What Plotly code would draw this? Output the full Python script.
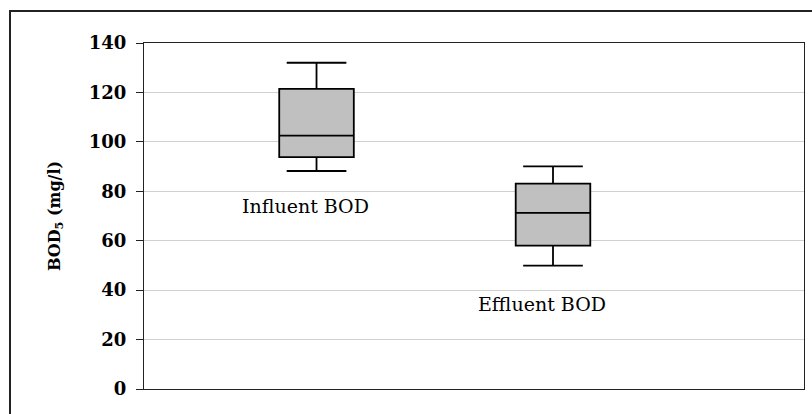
import plotly.graph_objects as go

categories = ["Influent BOD", "Effluent BOD"]
lower_whisker = [88.2, 49.9]
q1_values = [93.8, 58.0]
median_values = [102.5, 71.3]
q3_values = [121.4, 83.1]
upper_whisker = [132.0, 90.1]
y_ticks = [0, 20, 40, 60, 80, 100, 120, 140]

# horizontal layout (fractions of the x axis)
box_pos = [0.2614, 0.6197]
label_pos_x = [0.244, 0.6026]
label_pos_y = [74.2, 34.4]

fig = go.Figure()
for i, name in enumerate(categories):
    fig.add_trace(go.Box(
        x=[box_pos[i]],
        q1=[q1_values[i]], median=[median_values[i]], q3=[q3_values[i]],
        lowerfence=[lower_whisker[i]], upperfence=[upper_whisker[i]],
        width=0.113, whiskerwidth=0.8,
        fillcolor="#c0c0c0", line=dict(color="#000000", width=1.8),
        boxpoints=False, name=name, showlegend=False, hoverinfo="skip",
    ))
    fig.add_annotation(x=label_pos_x[i], y=label_pos_y[i], text=name,
                       showarrow=False, xanchor="center", yanchor="middle",
                       font=dict(family="DejaVu Serif", size=19, color="#000000"))

fig.update_layout(
    width=812, height=414,
    margin=dict(l=144, r=8, t=43, b=25, autoexpand=False),
    paper_bgcolor="#ffffff", plot_bgcolor="#ffffff",
    xaxis=dict(range=[0, 1], showticklabels=False, showgrid=False, zeroline=False,
               showline=True, mirror=True, linecolor="#222222", linewidth=1, ticks="",
               automargin=False),
    yaxis=dict(range=[0, 140], tickvals=y_ticks, showgrid=True, gridcolor="#d0d0d0",
               gridwidth=1, zeroline=False, showline=True, mirror=True, automargin=False,
               linecolor="#222222", linewidth=1, ticks="outside", ticklen=7,
               tickcolor="#222222", ticklabelstandoff=6,
               tickfont=dict(family="DejaVu Serif", size=18, color="#000000", weight="bold"),
               title=dict(text="BOD<sub>5</sub> (mg/l)", standoff=24,
                          font=dict(family="DejaVu Serif", size=16, color="#000000", weight="bold"))),
    shapes=[dict(type="rect", xref="paper", yref="paper",
                 x0=-134/660, x1=1.02, y0=-0.2, y1=(389 - 11) / 346,
                 line=dict(color="#222222", width=2), fillcolor="rgba(0,0,0,0)", layer="above")],
)

fig.write_html("out.html", config={"displayModeBar": False},
               post_script="document.body.style.margin='0';document.body.style.overflow='hidden';")
